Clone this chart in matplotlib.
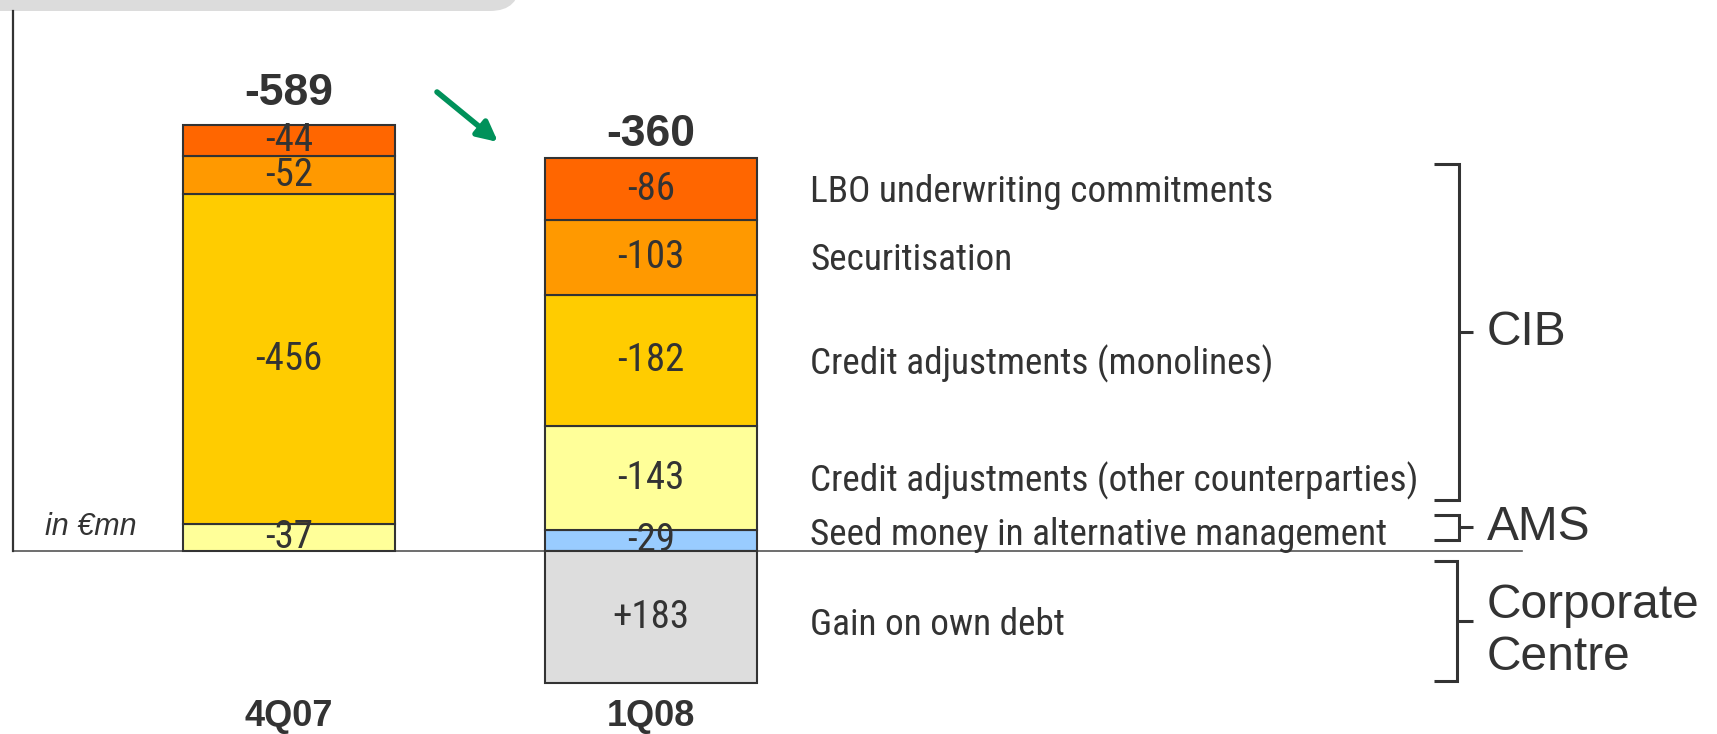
import numpy as np
import matplotlib
matplotlib.use("Agg")
import matplotlib.pyplot as plt
from matplotlib import font_manager
from matplotlib.patches import FancyBboxPatch
from matplotlib.lines import Line2D

# data (in EUR mn), stacked from the baseline upwards
quarters = ["4Q07", "1Q08"]
seed_money = [0, -29]
other_counterparties = [-37, -143]
monolines = [-456, -182]
securitisation = [-52, -103]
lbo = [-44, -86]
own_debt = [0, 183]
totals = [-589, -360]

segment_names = ["Seed money in alternative management",
                 "Credit adjustments (other counterparties)",
                 "Credit adjustments (monolines)",
                 "Securitisation",
                 "LBO underwriting commitments"]
own_debt_name = "Gain on own debt"

segment_colors = ["#99CCFF", "#FFFF99", "#FFCC00", "#FF9900", "#FF6600"]
own_debt_color = "#DDDDDD"
dark = "#333333"

# pick a narrow font if there is one
available = {f.name for f in font_manager.fontManager.ttflist}
narrow = None
size_k = 1.0
for name in ["Liberation Sans Narrow", "Arial Narrow", "Roboto Condensed", "Open Sans Condensed"]:
    if name in available:
        narrow = dict(family=name)
        break
if narrow is None:
    cond = [f for f in font_manager.fontManager.ttflist
            if f.name == "DejaVu Sans" and str(f.stretch) in ("condensed", "semi-condensed")]
    if cond:
        narrow = dict(family="DejaVu Sans", stretch="condensed")
        size_k = 0.85
    else:
        narrow = dict(family="Liberation Sans")
        size_k = 0.85
plt.rcParams["font.family"] = ["Liberation Sans", "DejaVu Sans"]

W, H = 1717, 734
fig = plt.figure(figsize=(W / 100, H / 100), dpi=100)
ax = fig.add_axes([0, 0, 1, 1])
ax.axis("off")

# layout: pixels per EUR mn, baseline position, spacing of the bars
px_per_unit = 0.724
base_px = 551
bar_px = 362
x0_px = 289
ax.set_xlim(-x0_px / bar_px, (W - x0_px) / bar_px)
ax.set_ylim((H - base_px) / px_per_unit, -base_px / px_per_unit)

def px_x(px):
    return (px - x0_px) / bar_px

def px_y(px):
    return (px - base_px) / px_per_unit

x = np.arange(len(quarters))
width = 0.586
seg_size = 28 * size_k
lab_size = 26.8 * size_k

# stacked negative segments
bottom = np.zeros(len(quarters))
centres = []
for vals, color in zip([seed_money, other_counterparties, monolines, securitisation, lbo], segment_colors):
    vals = np.array(vals)
    m = vals != 0
    ax.bar(x[m], vals[m], width, bottom=bottom[m], color=color, edgecolor=dark, linewidth=1.5, zorder=3)
    for xi, v, b in zip(x[m], vals[m], bottom[m]):
        ax.text(xi, b + v / 2, f"{v}", ha="center", va="center", fontsize=seg_size,
                color=dark, zorder=5, **narrow)
    centres.append(bottom[1] + vals[1] / 2)
    bottom += vals

# positive segment (gain on own debt)
own = np.array(own_debt)
m = own != 0
ax.bar(x[m], own[m], width, bottom=0, color=own_debt_color, edgecolor=dark, linewidth=1.5, zorder=3)
for xi, v in zip(x[m], own[m]):
    ax.text(xi, v / 2, f"+{v}", ha="center", va="center", fontsize=seg_size, color=dark, zorder=5, **narrow)

# totals on top of the bars
for i, (t, off) in enumerate(zip(totals, [22.5, 16.7])):
    ax.annotate(f"{t}", xy=(i, bottom[i]), xytext=(0, off), textcoords="offset points",
                ha="center", va="center", fontsize=32, fontweight="bold", color=dark)

# quarter labels
for i, q in enumerate(quarters):
    ax.text(i, px_y(717), q, ha="center", va="center", fontsize=26, fontweight="bold", color=dark)

# descriptions next to the 1Q08 bar
label_x = px_x(810)
shifts = [-7, 4, 4, 4, 4]
for name, c, s in zip(segment_names, centres, shifts):
    ax.text(label_x, c + s, name, ha="left", va="center", fontsize=lab_size, color=dark, **narrow)
ax.text(label_x, own_debt[1] / 2 + 11, own_debt_name, ha="left", va="center", fontsize=lab_size,
        color=dark, **narrow)

# baseline and left axis line
ax.plot([px_x(13), px_x(1522)], [0, 0], color="#555555", lw=1.2, zorder=2)
fig.add_artist(Line2D([13 / W, 13 / W], [(H - base_px) / H, (H - 11) / H],
                      transform=fig.transFigure, color=dark, lw=1.6))

# brackets for the business lines
brackets = [("CIB", -534, -70, px_x(1459), 0),
            ("AMS", -50, -15, px_x(1459), 0),
            ("Corporate\nCentre", 14, 180, px_x(1457), 14)]
for label, y0, y1, xv, toff in brackets:
    ym = (y0 + y1) / 2
    ax.plot([px_x(1434), xv, xv, px_x(1434)], [y0, y0, y1, y1], color=dark, lw=2.2,
            solid_joinstyle="miter", solid_capstyle="butt")
    ax.plot([xv, px_x(1473)], [ym, ym], color=dark, lw=2.2, solid_capstyle="butt")
    ax.text(px_x(1487), ym + toff, label, ha="left", va="center", fontsize=34.5,
            color=dark, linespacing=1.2)

# unit note
ax.text(px_x(91), px_y(527), "in €mn", ha="center", va="center", fontsize=22,
        style="italic", color=dark)

# green arrow between the totals
ax.annotate("", xy=(px_x(498), px_y(142)), xytext=(px_x(437), px_y(92)),
            arrowprops=dict(arrowstyle="-|>", color="#00915A", lw=4, mutation_scale=30,
                            shrinkA=0, shrinkB=0))

# grey band at the top
band = FancyBboxPatch((-0.5, (H - 11) / 100), 5.7, 1.0, boxstyle="round,pad=0,rounding_size=0.3",
                      transform=fig.dpi_scale_trans, fc="#DCDCDC", ec="none")
fig.add_artist(band)

fig.savefig("out.png", dpi=100)
